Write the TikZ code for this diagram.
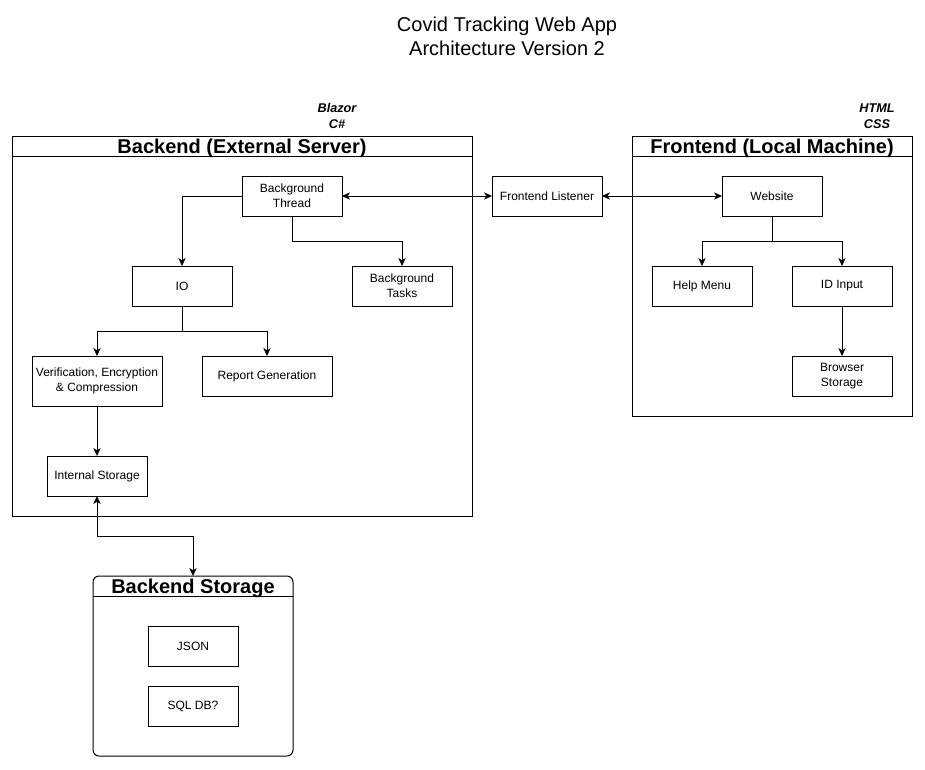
\documentclass[tikz,border=0pt]{standalone}
\usepackage{fontspec}
\setmainfont{Liberation Sans}
\usetikzlibrary{arrows.meta}
\begin{document}
\begin{tikzpicture}[x=0.75pt,y=-0.75pt,
  every node/.style={outer sep=0pt, inner sep=1pt},
  box/.style={draw, line width=0.75pt, align=center, font=\fontsize{9}{11}\selectfont,
    minimum width=75pt, minimum height=30pt},
  lane/.style={draw, line width=0.75pt},
  lanetitle/.style={font=\fontsize{15}{18}\selectfont\bfseries},
  tech/.style={align=center, font=\fontsize{9.5}{12}\selectfont\bfseries\itshape},
  conn/.style={line width=0.75pt, -{Stealth[length=6pt,width=5.5pt,inset=1.8pt]}},
  bconn/.style={line width=0.75pt, {Stealth[length=6pt,width=5.5pt,inset=1.8pt]}-{Stealth[length=6pt,width=5.5pt,inset=1.8pt]}}
]
\useasboundingbox (0,0) rectangle (925,769);

% title
\node[align=center, font=\fontsize{15}{18}\selectfont] (title) at (507,36) {Covid Tracking Web App\\Architecture Version 2};

% technology labels
\node[tech] (blazor) at (337,116) {Blazor\\C\#};
\node[tech] (html) at (877,116) {HTML\\CSS};

% containers
\node[lane, minimum width=345pt, minimum height=285pt] (be) at (242,326) {};
\draw[line width=0.75pt] (12,156) -- (472,156);
\node[lanetitle] (betitle) at (242,148.5) {Backend (External Server)};

\node[lane, minimum width=210pt, minimum height=210pt] (fe) at (772,276) {};
\draw[line width=0.75pt] (632,156) -- (912,156);
\node[lanetitle] (fetitle) at (772,148.5) {Frontend (Local Machine)};

\node[lane, rounded corners=4.5pt, minimum width=150pt, minimum height=135pt] (bs) at (193,666) {};
\draw[line width=0.75pt] (93,596) -- (293,596);
\node[lanetitle] (bstitle) at (193,588.5) {Backend Storage};

% backend nodes
\node[box] (bt) at (292,196) {Background\\Thread};
\node[box] (io) at (182,286) {IO};
\node[box] (bgt) at (402,286) {Background\\Tasks};
\node[box, minimum width=97.5pt, minimum height=37.5pt] (ver) at (97,381) {Verification, Encryption\\\& Compression};
\node[box, minimum width=97.5pt] (rep) at (267,376) {Report Generation};
\node[box] (is) at (97,476) {Internal Storage};

% middle
\node[box, minimum width=82.5pt] (fl) at (547,196) {Frontend Listener};

% frontend nodes
\node[box] (web) at (772,196) {Website};
\node[box] (help) at (702,286) {Help Menu};
\node[box] (id) at (842,286) {ID Input};
\node[box] (bst) at (842,376) {Browser\\Storage};

% storage nodes
\node[box, minimum width=67.5pt] (json) at (193,646) {JSON};
\node[box, minimum width=67.5pt] (sql) at (193,706) {SQL DB?};

% connectors
\draw[conn] (bt.west) -| (io.north);
\draw[conn] (bt.south) -- ++(0,25) -| (bgt.north);
\draw[bconn] (bt.east) -- (fl.west);
\draw[bconn] (fl.east) -- (web.west);
\draw[conn] (web.south) -- ++(0,25) -| (help.north);
\draw[conn] (web.south) -- ++(0,25) -| (id.north);
\draw[conn] (id.south) -- (bst.north);
\draw[conn] (io.south) -- ++(0,25) -| (ver.north);
\draw[conn] (io.south) -- ++(0,25) -| (rep.north);
\draw[conn] (ver.south) -- (is.north);
\draw[bconn] (is.south) -- ++(0,40) -| (bs.north);
\end{tikzpicture}
\end{document}
